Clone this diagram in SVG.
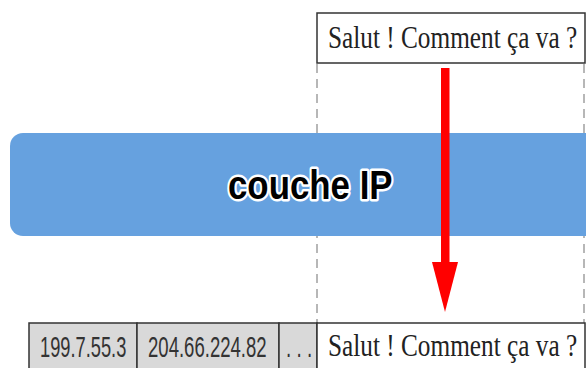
<svg xmlns="http://www.w3.org/2000/svg" width="586" height="368" viewBox="0 0 586 368">
<style>
.box{fill:#ffffff;stroke:#333333;stroke-width:1.5}
.cell{fill:#d9d9d9;stroke:#333333;stroke-width:1.5}
.msg{font-family:"Liberation Serif","Times New Roman",serif;font-size:32px;fill:#222222}
.ip{font-family:"Liberation Sans",Arial,sans-serif;font-size:29px;fill:#333333}
.dash{stroke:#888888;stroke-width:1.2;stroke-dasharray:9 6;fill:none}
.layer{font-family:"Liberation Sans",Arial,sans-serif;font-weight:bold;font-size:41px;fill:#000000;stroke:#ffffff;stroke-width:5;paint-order:stroke;stroke-linejoin:round}
</style>
<rect width="586" height="368" fill="#ffffff"/>
<g id="connectors-guides">
<line class="dash" x1="317" y1="64" x2="317" y2="323"/>
<line class="dash" x1="584" y1="64" x2="584" y2="323"/>
</g>
<g id="top-message">
<rect class="box" x="317" y="13" width="268" height="50"/>
<text class="msg" transform="translate(328,48) scale(0.79,1)">Salut ! Comment ça va ?</text>
</g>
<g id="ip-layer">
<rect x="10" y="133" width="600" height="103" rx="13" fill="#66a1df"/>
<text class="layer" transform="translate(228,199) scale(0.85,1)">couche IP</text>
</g>
<g id="connectors">
<rect x="441" y="68" width="8.5" height="198" fill="#ff0000"/>
<polygon points="432,262 458,262 445,312" fill="#ff0000"/>
</g>
<g id="packet">
<rect class="cell" x="29" y="323" width="108" height="50"/>
<text class="ip" transform="translate(40,357) scale(0.63,1)">199.7.55.3</text>
<rect class="cell" x="137" y="323" width="142" height="50"/>
<text class="ip" transform="translate(148,357) scale(0.64,1)">204.66.224.82</text>
<rect class="cell" x="279" y="323" width="38" height="50"/>
<text class="ip" transform="translate(286,357) scale(0.65,1)">. . .</text>
<rect class="box" x="317" y="323" width="268" height="50"/>
<text class="msg" transform="translate(328,356) scale(0.79,1)">Salut ! Comment ça va ?</text>
</g>
</svg>
